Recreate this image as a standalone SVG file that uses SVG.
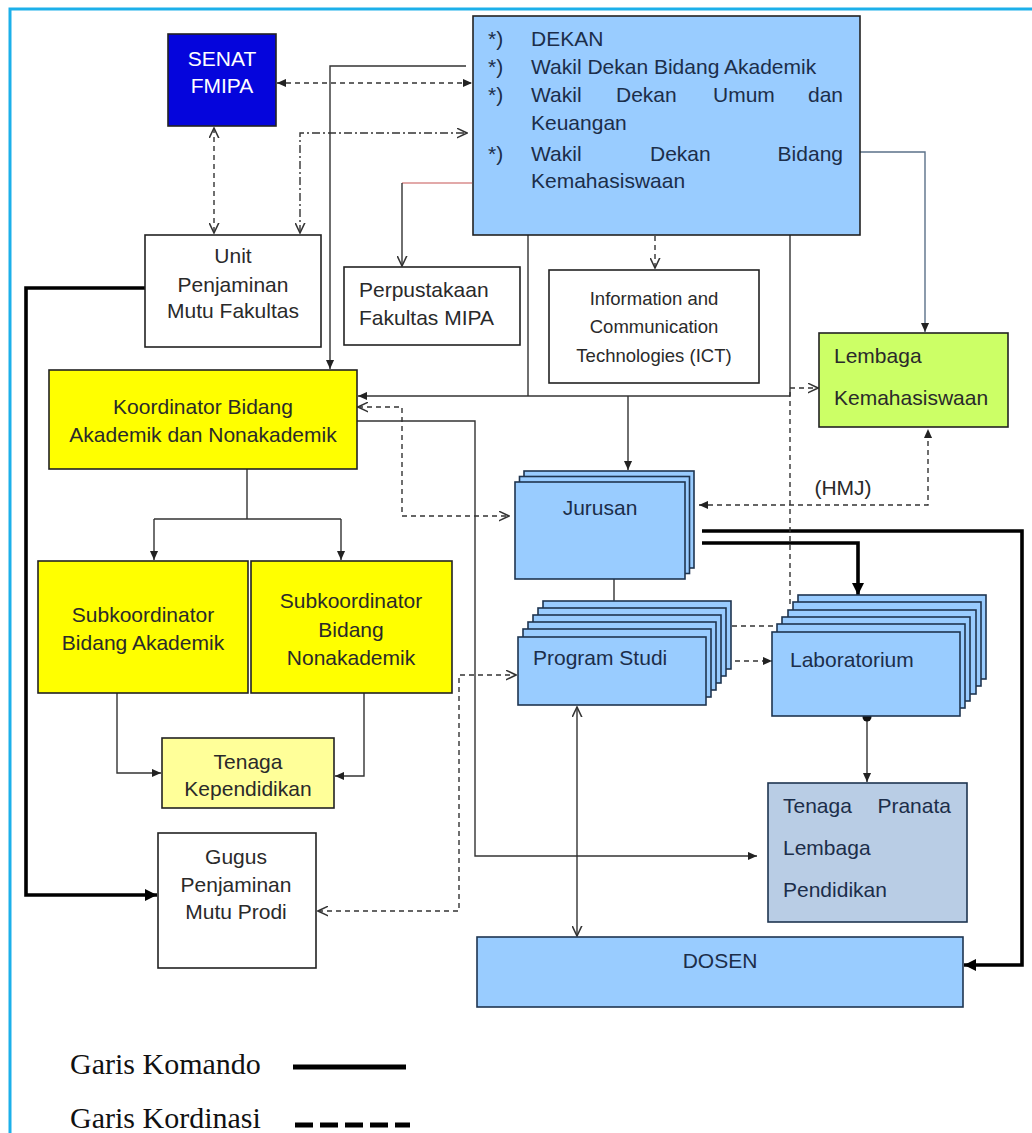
<svg xmlns="http://www.w3.org/2000/svg" width="1032" height="1133" viewBox="0 0 1032 1133">
<style>
text{font-family:"Liberation Sans",Arial,sans-serif;font-size:21px;fill:#2a2a2a}
.c{text-anchor:middle}
.e{text-anchor:end}
.nv{fill:#1c2e4a}
.wh{fill:#ffffff}
.box{stroke:#222;stroke-width:1.6}
.blue{fill:#99ccff;stroke:#1f3550;stroke-width:1.6}
.ln{fill:none;stroke:#333;stroke-width:1.4}
.dl{fill:none;stroke:#333;stroke-width:1.4;stroke-dasharray:5 4}
.th{fill:none;stroke:#000;stroke-width:3.6}
.leg{font-family:"Liberation Serif","Times New Roman",serif;font-size:30px;fill:#111}
</style>
<defs>
<marker id="af" viewBox="0 0 10 10" refX="10" refY="5" markerWidth="9" markerHeight="9" markerUnits="userSpaceOnUse" orient="auto-start-reverse"><path d="M0,0.5 L10,5 L0,9.5 z" fill="#222"/></marker>
<marker id="ao" viewBox="0 0 10 10" refX="9.5" refY="5" markerWidth="11" markerHeight="11" markerUnits="userSpaceOnUse" orient="auto-start-reverse"><path d="M0,0.5 L9.5,5 L0,9.5" fill="none" stroke="#333" stroke-width="1.4"/></marker>
<marker id="at" viewBox="0 0 10 10" refX="10" refY="5" markerWidth="12" markerHeight="12" markerUnits="userSpaceOnUse" orient="auto-start-reverse"><path d="M0,0 L10,5 L0,10 z" fill="#000"/></marker>
</defs>
<rect x="0" y="0" width="1032" height="1133" fill="#ffffff"/>
<path d="M10,1133 V9 H1032" fill="none" stroke="#1cb0ea" stroke-width="3"/>

<g id="connectors">
<path class="ln" d="M466,66 H330 V369" marker-end="url(#af)"/>
<path d="M472,183 H402" fill="none" stroke="#d98c8c" stroke-width="1.4"/>
<path class="ln" d="M402,183 V266" marker-end="url(#ao)"/>
<path class="ln" d="M528,235 V396 M790,235 V396"/>
<path class="ln" d="M790,396 H358" marker-end="url(#af)"/>
<path class="ln" d="M628,396 V470" marker-end="url(#af)"/>
<path fill="none" stroke="#5b7189" stroke-width="1.4" d="M860,152 H925 V332" marker-end="url(#af)"/>
<path class="ln" d="M357,421 H475 V856 H757" marker-end="url(#af)"/>
<path class="ln" d="M247,469 V519 M154,519 H341"/>
<path class="ln" d="M154,519 V560" marker-end="url(#af)"/>
<path class="ln" d="M341,519 V560" marker-end="url(#af)"/>
<path class="ln" d="M117,693 V773 H161" marker-end="url(#af)"/>
<path class="ln" d="M364,693 V776 H335" marker-end="url(#af)"/>
<path class="ln" d="M614,579 V601"/>
<path class="ln" d="M577,707 V936" marker-start="url(#ao)" marker-end="url(#ao)"/>
<path class="ln" d="M867,717 V782" marker-end="url(#af)"/>
<circle cx="867" cy="717" r="4.5" fill="#111"/>
<path class="th" d="M145,288 H26 V895 H157" marker-end="url(#at)"/>
<path class="th" d="M702,531 H1022 V965 H964" marker-end="url(#at)"/>
<path class="th" d="M702,543 H858 V595" marker-end="url(#at)"/>
<path class="dl" d="M277,83 H472" marker-start="url(#af)" marker-end="url(#af)"/>
<path class="dl" d="M214,128 V233" marker-start="url(#ao)" marker-end="url(#ao)"/>
<path fill="none" stroke="#333" stroke-width="1.4" stroke-dasharray="8 3 2 3" d="M300,233 V133 H467" marker-start="url(#ao)" marker-end="url(#ao)"/>
<path class="dl" d="M655,236 V268" marker-end="url(#ao)"/>
<path class="dl" d="M358,407 H402 V516 H509" marker-start="url(#ao)" marker-end="url(#ao)"/>
<path class="dl" d="M790,604 V388 H818" marker-end="url(#ao)"/>
<path class="dl" d="M732,626 H781"/>
<path class="dl" d="M708,661 H772" marker-start="url(#af)" marker-end="url(#af)"/>
<path class="dl" d="M699,505 H928 V429" marker-start="url(#af)" marker-end="url(#af)"/>
<path class="dl" d="M318,911 H459 V675 H516" marker-start="url(#ao)" marker-end="url(#ao)"/>
<text class="c" x="843" y="495" fill="#333">(HMJ)</text>
</g>

<g id="senat">
<rect class="box" x="168" y="34" width="108" height="92" fill="#0505dc"/>
<text class="c wh" x="222" y="66">SENAT</text>
<text class="c wh" x="222" y="93">FMIPA</text>
</g>

<g id="dekan">
<rect class="box" x="473" y="16" width="387" height="219" fill="#99ccff"/>
<text class="nv" x="488" y="46">*)</text>
<text class="nv" x="531" y="46">DEKAN</text>
<text class="nv" x="488" y="74">*)</text>
<text class="nv" x="531" y="74">Wakil Dekan Bidang Akademik</text>
<text class="nv" x="488" y="102">*)</text>
<text class="nv" x="531" y="102">Wakil</text>
<text class="nv" x="616" y="102">Dekan</text>
<text class="nv" x="713" y="102">Umum</text>
<text class="nv e" x="843" y="102">dan</text>
<text class="nv" x="531" y="130">Keuangan</text>
<text class="nv" x="488" y="161">*)</text>
<text class="nv" x="531" y="161">Wakil</text>
<text class="nv" x="650" y="161">Dekan</text>
<text class="nv e" x="843" y="161">Bidang</text>
<text class="nv" x="531" y="188">Kemahasiswaan</text>
</g>

<g id="unit-penjaminan">
<rect class="box" x="145" y="235" width="176" height="112" fill="#fff"/>
<text class="c" x="233" y="263">Unit</text>
<text class="c" x="233" y="292">Penjaminan</text>
<text class="c" x="233" y="318">Mutu Fakultas</text>
</g>

<g id="perpustakaan">
<rect class="box" x="344" y="267" width="176" height="78" fill="#fff"/>
<text x="359" y="297">Perpustakaan</text>
<text x="359" y="325">Fakultas MIPA</text>
</g>

<g id="ict">
<rect class="box" x="549" y="270" width="210" height="113" fill="#fff"/>
<text class="c" x="654" y="305" style="font-size:18.5px">Information and</text>
<text class="c" x="654" y="333" style="font-size:18.5px">Communication</text>
<text class="c" x="654" y="362" style="font-size:18.5px">Technologies (ICT)</text>
</g>

<g id="lembaga-kemahasiswaan">
<rect class="box" x="819" y="333" width="189" height="94" fill="#ccff66"/>
<text x="834" y="363" fill="#263a1c">Lembaga</text>
<text x="834" y="405" fill="#263a1c">Kemahasiswaan</text>
</g>

<g id="koordinator">
<rect class="box" x="49" y="370" width="308" height="99" fill="#ffff00"/>
<text class="c" x="203" y="414">Koordinator Bidang</text>
<text class="c" x="203" y="442">Akademik dan Nonakademik</text>
</g>

<g id="sub-akademik">
<rect class="box" x="38" y="561" width="210" height="132" fill="#ffff00"/>
<text class="c" x="143" y="622">Subkoordinator</text>
<text class="c" x="143" y="650">Bidang Akademik</text>
</g>

<g id="sub-nonakademik">
<rect class="box" x="251" y="561" width="201" height="132" fill="#ffff00"/>
<text class="c" x="351" y="608">Subkoordinator</text>
<text class="c" x="351" y="637">Bidang</text>
<text class="c" x="351" y="665">Nonakademik</text>
</g>

<g id="tenaga-kependidikan">
<rect class="box" x="162" y="738" width="172" height="70" fill="#ffff99"/>
<text class="c" x="248" y="769">Tenaga</text>
<text class="c" x="248" y="796">Kependidikan</text>
</g>

<g id="gugus">
<rect class="box" x="158" y="833" width="158" height="135" fill="#fff"/>
<text class="c" x="236" y="864" fill="#3a3a3a">Gugus</text>
<text class="c" x="236" y="892" fill="#3a3a3a">Penjaminan</text>
<text class="c" x="236" y="919" fill="#3a3a3a">Mutu Prodi</text>
</g>

<g id="jurusan">
<rect class="blue" x="524" y="471" width="170" height="97"/>
<rect class="blue" x="519.5" y="476.5" width="170" height="97"/>
<rect class="blue" x="515" y="482" width="170" height="97"/>
<text class="c nv" x="600" y="515">Jurusan</text>
</g>

<g id="program-studi">
<rect class="blue" x="543" y="601" width="188" height="68"/>
<rect class="blue" x="538" y="608" width="188" height="68"/>
<rect class="blue" x="533" y="615" width="188" height="68"/>
<rect class="blue" x="528" y="622" width="188" height="68"/>
<rect class="blue" x="523" y="629" width="188" height="68"/>
<rect class="blue" x="518" y="637" width="188" height="68"/>
<text class="nv" x="533" y="665">Program Studi</text>
</g>

<g id="laboratorium">
<rect class="blue" x="798" y="595" width="188" height="84"/>
<rect class="blue" x="793" y="602" width="188" height="84"/>
<rect class="blue" x="788" y="610" width="188" height="84"/>
<rect class="blue" x="782" y="617" width="188" height="84"/>
<rect class="blue" x="777" y="624" width="188" height="84"/>
<rect class="blue" x="772" y="632" width="188" height="84"/>
<text class="nv" x="790" y="667">Laboratorium</text>
</g>

<g id="tenaga-pranata">
<rect x="768" y="783" width="199" height="139" fill="#b9cde5" stroke="#1f3550" stroke-width="1.6"/>
<text class="nv" x="783" y="813">Tenaga</text>
<text class="nv e" x="951" y="813">Pranata</text>
<text class="nv" x="783" y="855">Lembaga</text>
<text class="nv" x="783" y="897">Pendidikan</text>
</g>

<g id="dosen">
<rect class="blue" x="477" y="937" width="486" height="70"/>
<text class="c nv" x="720" y="968">DOSEN</text>
</g>

<g id="legend">
<text class="leg" x="70" y="1074">Garis Komando</text>
<path d="M293,1067 H406" stroke="#000" stroke-width="5"/>
<text class="leg" x="70" y="1128">Garis Kordinasi</text>
<path d="M295,1125 H410" stroke="#000" stroke-width="5" stroke-dasharray="18 7"/>
</g>
</svg>
